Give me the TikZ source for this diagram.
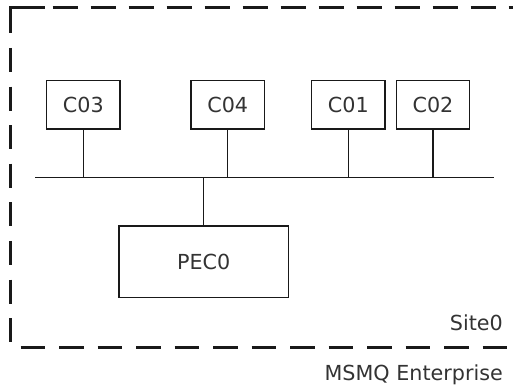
\documentclass[tikz,border=0pt]{standalone}
\usepackage{fontspec}
\setmainfont{DejaVu Sans}
\begin{document}
\begin{tikzpicture}[x=1pt,y=-1pt,
  every node/.style={font=\fontsize{20.7}{24}\selectfont, text=black!80},
  hostbox/.style={draw=black!90, line width=1.4pt, inner sep=0pt,
    minimum width=73.3pt, minimum height=48.3pt},
  pecbox/.style={draw=black!90, line width=1.4pt, inner sep=0pt,
    minimum width=169.3pt, minimum height=71.7pt},
  link/.style={draw=black!90, line width=1.4pt},
  sitedash/.style={draw=black!90, line width=3pt,
    dash pattern=on 24pt off 14.6pt},
  topdash/.style={draw=black!90, line width=3pt,
    dash pattern=on 25.7pt off 12.3pt},
  bottomdash/.style={draw=black!90, line width=3pt,
    dash pattern=on 24.5pt off 14pt}]
\useasboundingbox (0,0) rectangle (513,388);

% site boundary (open to the right)
\coordinate (tl) at (10.5,7.7);
\coordinate (bl) at (10.5,342);
\draw[sitedash] (10.5,9.3) -- (bl);
\draw[draw=black!90, line width=3pt] (9,7.7) -- (45,7.7);
\draw[topdash] (52.7,7.7) -- (520,7.7);
\draw[bottomdash] (20.7,347) -- (520,347);

% hosts
\node[hostbox] (c03) at (83.3,104.8) {C03};
\node[hostbox] (c04) at (227.7,104.8) {C04};
\node[hostbox] (c01) at (348.3,104.8) {C01};
\node[hostbox] (c02) at (433,104.8) {C02};
\node[pecbox] (pec) at (203.7,261.8) {PEC0};

% bus
\coordinate (busL) at (35,177.5);
\coordinate (busR) at (494,177.5);
\draw[link] (busL) -- (busR);
\foreach \n in {c03,c04,c01,c02}
  \draw[link] (\n.south) -- (\n.south |- busL);
\draw[link] (pec.north) -- (pec.north |- busL);

% labels
\node[anchor=base east, inner sep=0pt] (site) at (503,330) {Site0};
\node[anchor=base east, inner sep=0pt] (ent) at (503,380.5) {MSMQ Enterprise};
\end{tikzpicture}
\end{document}
